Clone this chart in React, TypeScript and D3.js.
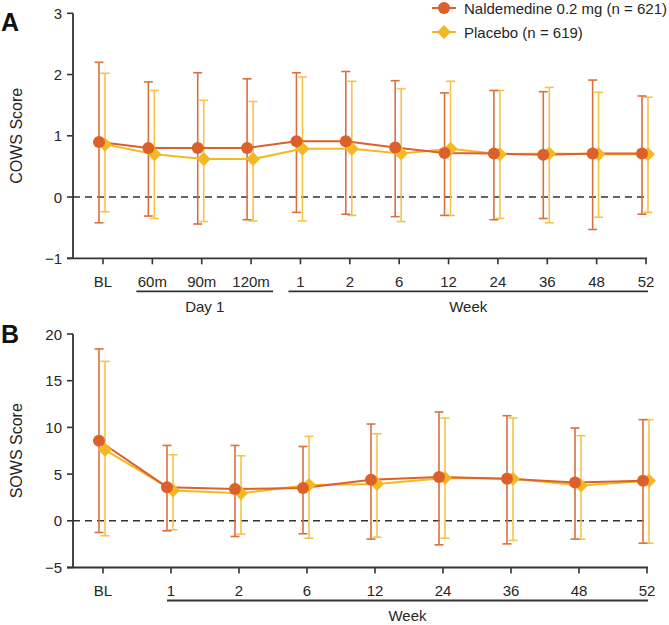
import React from "react";
import * as d3 from "d3";

const catsA = ["BL", "60m", "90m", "120m", "1", "2", "6", "12", "24", "36", "48", "52"];
const naldA = [0.9, 0.8, 0.8, 0.8, 0.91, 0.91, 0.81, 0.72, 0.71, 0.69, 0.71, 0.71];
const naldAUp = [2.2, 1.88, 2.03, 1.93, 2.03, 2.05, 1.9, 1.7, 1.74, 1.72, 1.91, 1.65];
const naldALo = [-0.42, -0.31, -0.44, -0.37, -0.25, -0.28, -0.32, -0.3, -0.37, -0.35, -0.53, -0.28];
const placA = [0.86, 0.7, 0.62, 0.62, 0.79, 0.79, 0.71, 0.79, 0.7, 0.71, 0.7, 0.7];
const placAUp = [2.02, 1.74, 1.58, 1.56, 1.96, 1.89, 1.77, 1.89, 1.74, 1.79, 1.71, 1.63];
const placALo = [-0.24, -0.35, -0.4, -0.39, -0.39, -0.3, -0.4, -0.3, -0.35, -0.42, -0.33, -0.25];
const ticksA = [-1, 0, 1, 2, 3];

const catsB = ["BL", "1", "2", "6", "12", "24", "36", "48", "52"];
const naldB = [8.57, 3.6, 3.4, 3.5, 4.39, 4.68, 4.5, 4.11, 4.29];
const naldBUp = [18.4, 8.07, 8.07, 7.96, 10.36, 11.65, 11.25, 9.93, 10.83];
const naldBLo = [-1.25, -1.07, -1.68, -1.39, -1.96, -2.57, -2.47, -1.96, -2.4];
const placB = [7.6, 3.25, 2.96, 3.82, 3.93, 4.57, 4.5, 3.79, 4.29];
const placBUp = [17.07, 7.07, 6.96, 9.04, 9.32, 11.0, 11.0, 9.11, 10.83];
const placBLo = [-1.6, -0.96, -1.43, -1.86, -1.75, -1.86, -2.1, -1.96, -2.4];
const ticksB = [-5, 0, 5, 10, 15, 20];

const seriesNames = ["Naldemedine 0.2 mg (n = 621)", "Placebo (n = 619)"];

const ORANGE = "#DD5F2A";
const ORANGE_BAR = "#D8703F";
const YELLOW = "#F3B824";
const YELLOW_BAR = "#F4C44A";
const AXIS = "#333333";
const TEXT = "#262626";
const FONT = "'Liberation Sans', Arial, Helvetica, sans-serif";

type Group = { label: string; from: string; to: string; padL: number; padR: number };

function diamond(cx: number, cy: number, r: number) {
  return `M${cx},${cy - r}L${cx + r},${cy}L${cx},${cy + r}L${cx - r},${cy}Z`;
}

function Panel(props: {
  cats: string[];
  yDomain: [number, number];
  yTicks: number[];
  yRange: [number, number];
  xRange: [number, number];
  nald: number[];
  naldUp: number[];
  naldLo: number[];
  plac: number[];
  placUp: number[];
  placLo: number[];
  title: string;
  letter: string;
  letterY: number;
  groups: Group[];
}) {
  const { cats, yDomain, yTicks, yRange, xRange } = props;
  const x = d3.scalePoint<string>().domain(cats).range(xRange);
  const y = d3.scaleLinear().domain(yDomain).range(yRange);
  const axisX = 73;
  const x0 = y(yDomain[0]);
  const oN = -4;
  const oP = 2;
  const capW = 4.5;
  const line = (vals: number[], off: number) =>
    d3
      .line<number>()
      .x((_, i) => (x(cats[i]) as number) + off)
      .y((v) => y(v))(vals) as string;

  const bars = (vals: number[], up: number[], lo: number[], off: number, color: string) =>
    vals.map((_, i) => {
      const cx = (x(cats[i]) as number) + off;
      return (
        <g key={i} stroke={color} strokeWidth={1.6} fill="none">
          <line x1={cx} x2={cx} y1={y(up[i])} y2={y(lo[i])} />
          <line x1={cx - capW} x2={cx + capW} y1={y(up[i])} y2={y(up[i])} />
          <line x1={cx - capW} x2={cx + capW} y1={y(lo[i])} y2={y(lo[i])} />
        </g>
      );
    });

  const midY = (yRange[0] + yRange[1]) / 2;
  return (
    <g fontFamily={FONT} fill={TEXT}>
      <text x={1} y={props.letterY} fontSize={25} fontWeight="bold" fill="#111">
        {props.letter}
      </text>
      <text
        transform={`translate(18,${midY}) rotate(-90)`}
        textAnchor="middle"
        dominantBaseline="middle"
        fontSize={16}
      >
        {props.title}
      </text>
      {/* dashed zero line */}
      <line
        x1={axisX}
        x2={xRange[1]}
        y1={y(0)}
        y2={y(0)}
        stroke={AXIS}
        strokeWidth={1.6}
        strokeDasharray="7,5"
      />
      {/* y axis */}
      <line x1={axisX} x2={axisX} y1={y(yDomain[1])} y2={x0} stroke={AXIS} strokeWidth={1.8} />
      {yTicks.map((t) => (
        <g key={t}>
          <line x1={axisX - 6} x2={axisX} y1={y(t)} y2={y(t)} stroke={AXIS} strokeWidth={1.6} />
          <text
            x={axisX - 11}
            y={y(t)}
            textAnchor="end"
            dominantBaseline="central"
            fontSize={15}
          >
            {t < 0 ? `\u2212${Math.abs(t)}` : t}
          </text>
        </g>
      ))}
      {/* x axis */}
      <line x1={axisX - 6} x2={xRange[1] + 1} y1={x0} y2={x0} stroke={AXIS} strokeWidth={1.8} />
      {cats.map((c) => (
        <g key={c}>
          <line
            x1={x(c) as number}
            x2={x(c) as number}
            y1={x0}
            y2={x0 + 6}
            stroke={AXIS}
            strokeWidth={1.6}
          />
          <text
            x={x(c) as number}
            y={x0 + 23}
            textAnchor="middle"
            dominantBaseline="central"
            fontSize={15}
          >
            {c}
          </text>
        </g>
      ))}
      {props.groups.map((g) => {
        const gx1 = (x(g.from) as number) - g.padL;
        const gx2 = (x(g.to) as number) + g.padR;
        return (
          <g key={g.label}>
            <line x1={gx1} x2={gx2} y1={x0 + 33} y2={x0 + 33} stroke={AXIS} strokeWidth={1.8} />
            <text
              x={(gx1 + gx2) / 2}
              y={x0 + 48}
              textAnchor="middle"
              dominantBaseline="central"
              fontSize={15}
            >
              {g.label}
            </text>
          </g>
        );
      })}
      {/* error bars */}
      {bars(props.plac, props.placUp, props.placLo, oP, YELLOW_BAR)}
      {bars(props.nald, props.naldUp, props.naldLo, oN, ORANGE_BAR)}
      {/* lines */}
      <path d={line(props.plac, oP)} fill="none" stroke={YELLOW} strokeWidth={2} />
      <path d={line(props.nald, oN)} fill="none" stroke={ORANGE} strokeWidth={2} />
      {props.plac.map((v, i) => (
        <path key={"p" + i} d={diamond((x(cats[i]) as number) + oP, y(v), 7)} fill={YELLOW} />
      ))}
      {props.nald.map((v, i) => (
        <circle key={"n" + i} cx={(x(cats[i]) as number) + oN} cy={y(v)} r={6} fill={ORANGE} />
      ))}
    </g>
  );
}

export default function App() {
  return (
    <svg
      width={669}
      height={625}
      style={{ position: "absolute", left: 0, top: 0, background: "#fff" }}
    >
      <rect width={669} height={625} fill="#fff" />
      <Panel
        cats={catsA}
        yDomain={[-1, 3]}
        yTicks={ticksA}
        yRange={[258.3, 13.3]}
        xRange={[103, 646]}
        nald={naldA}
        naldUp={naldAUp}
        naldLo={naldALo}
        plac={placA}
        placUp={placAUp}
        placLo={placALo}
        title="COWS Score"
        letter="A"
        letterY={31}
        groups={[
          { label: "Day 1", from: "60m", to: "120m", padL: 16, padR: 22 },
          { label: "Week", from: "1", to: "52", padL: 12, padR: 2 },
        ]}
      />
      <Panel
        cats={catsB}
        yDomain={[-5, 20]}
        yTicks={ticksB}
        yRange={[567.5, 334]}
        xRange={[103, 647]}
        nald={naldB}
        naldUp={naldBUp}
        naldLo={naldBLo}
        plac={placB}
        placUp={placBUp}
        placLo={placBLo}
        title="SOWS Score"
        letter="B"
        letterY={343}
        groups={[{ label: "Week", from: "1", to: "52", padL: 4, padR: 1 }]}
      />
      {/* legend */}
      <g fontFamily={FONT} fill={TEXT}>
        <line x1={432} x2={456} y1={8} y2={8} stroke={ORANGE} strokeWidth={2} />
        <circle cx={444} cy={8} r={6} fill={ORANGE} />
        <text x={464} y={8} dominantBaseline="central" fontSize={15}>
          {seriesNames[0]}
        </text>
        <line x1={432} x2={456} y1={32} y2={32} stroke={YELLOW} strokeWidth={2} />
        <path d={diamond(444, 32, 7)} fill={YELLOW} />
        <text x={464} y={32} dominantBaseline="central" fontSize={15}>
          {seriesNames[1]}
        </text>
      </g>
    </svg>
  );
}
